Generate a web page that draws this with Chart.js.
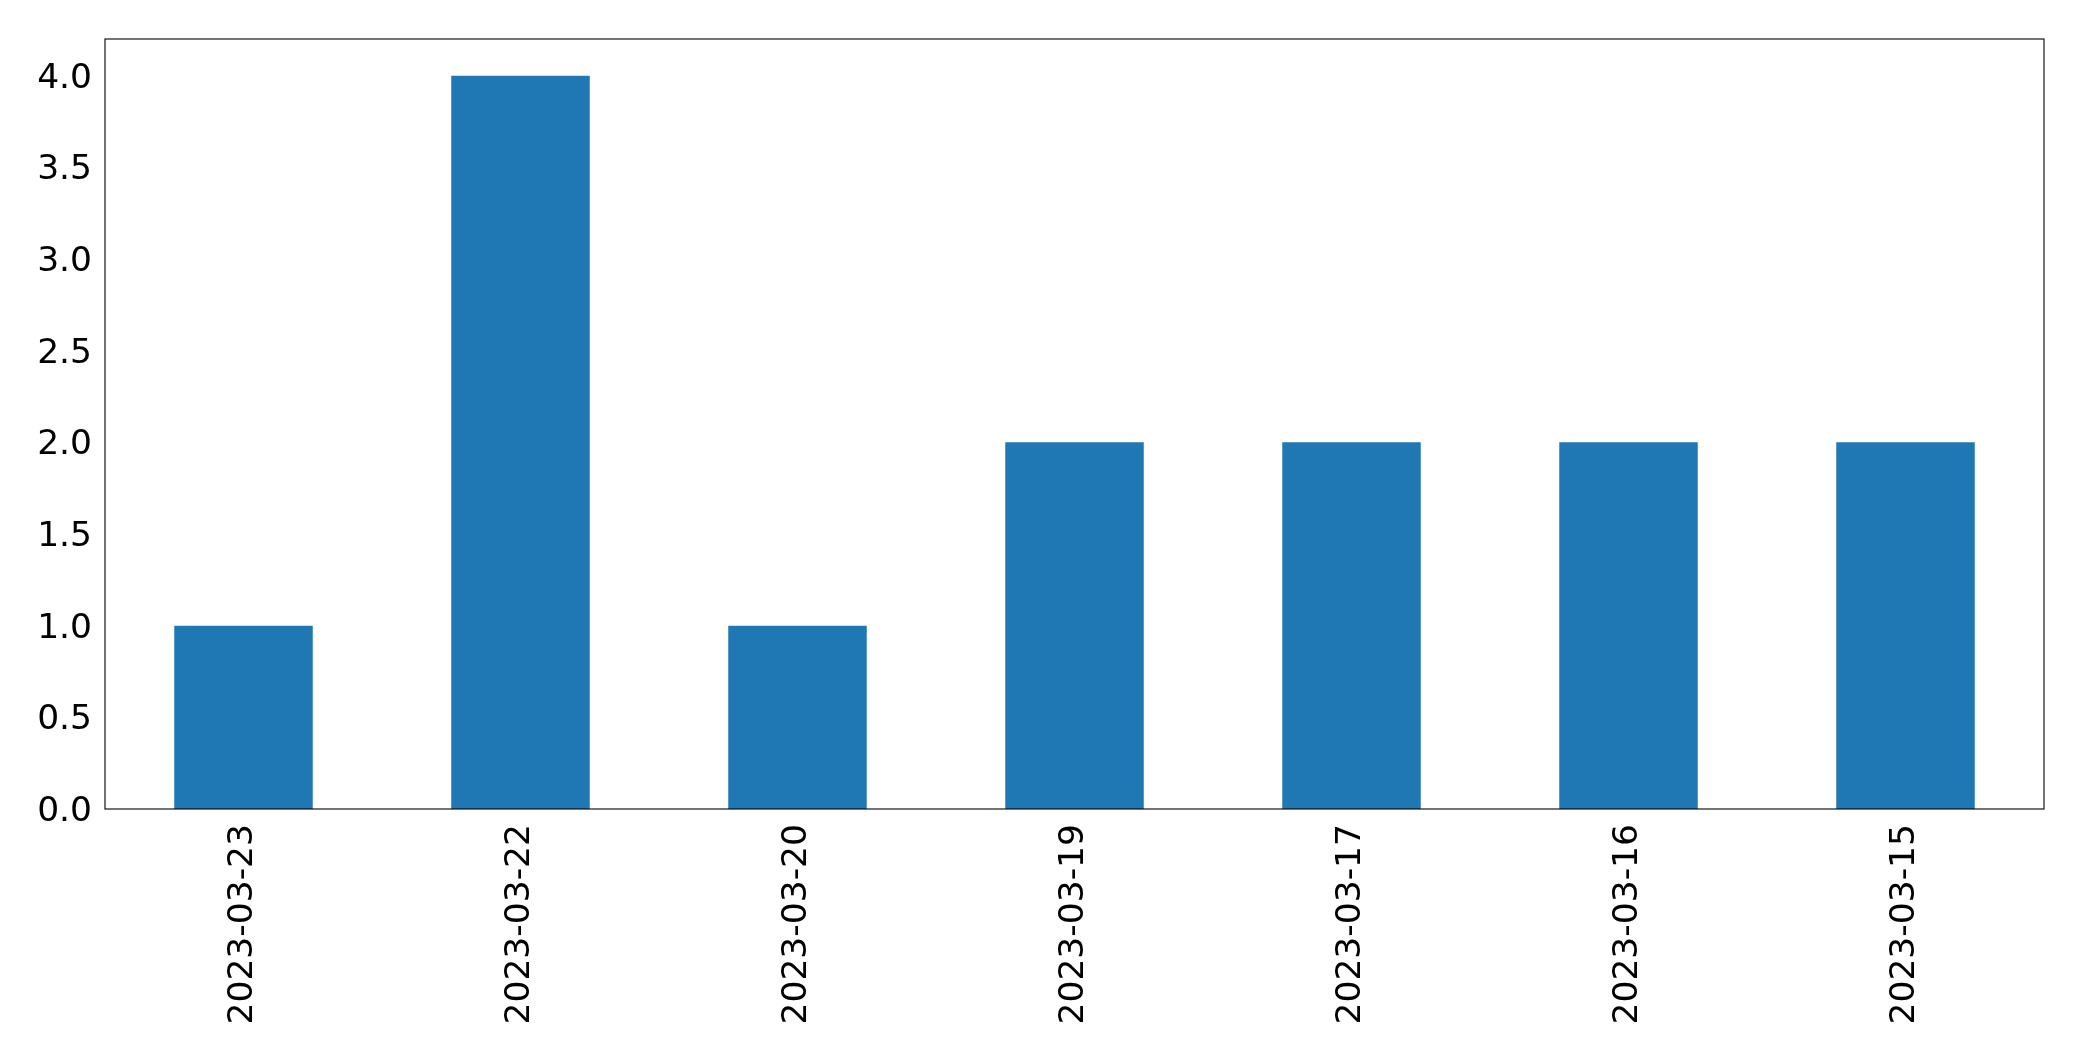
<!DOCTYPE html>
<html>
<head>
<meta charset="utf-8">
<script src="https://cdn.jsdelivr.net/npm/chart.js@4"></script>
<style>
  html, body { margin: 0; padding: 0; background: #fff; }
  #wrap { width: 2082px; height: 1061px; }
</style>
</head>
<body>
<div id="wrap"><canvas id="chart" width="2082" height="1061"></canvas></div>
<script>
// dados do gráfico
const dates = ['2023-03-23', '2023-03-22', '2023-03-20', '2023-03-19', '2023-03-17', '2023-03-16', '2023-03-15'];
const counts = [1, 4, 1, 2, 2, 2, 2];
const yTicks = [0, 0.5, 1, 1.5, 2, 2.5, 3, 3.5, 4];

// moldura completa em volta da área do gráfico (como no matplotlib)
const frame = {
    id: 'frame',
    afterDraw(chart) {
        const { ctx, chartArea: a } = chart;
        ctx.save();
        ctx.strokeStyle = '#000';
        ctx.lineWidth = 1.1;
        ctx.strokeRect(a.left, a.top, a.right - a.left, a.bottom - a.top);
        ctx.restore();
    }
};

const font = { family: '"DejaVu Sans", sans-serif', size: 34.5 };

new Chart(document.getElementById('chart').getContext('2d'), {
    type: 'bar',
    data: {
        labels: dates,
        datasets: [{
            data: counts,
            backgroundColor: '#1f77b4',
            barPercentage: 0.5,
            categoryPercentage: 1
        }]
    },
    options: {
        responsive: false,
        animation: false,
        layout: { padding: { top: 39, right: 38, left: 0, bottom: 0 } },
        plugins: { legend: { display: false }, tooltip: { enabled: false } },
        scales: {
            x: {
                grid: { display: false, drawTicks: true, tickLength: 5, tickColor: '#000', tickWidth: 1.1 },
                border: { display: false },
                ticks: { color: '#000', font, minRotation: 90, maxRotation: 90, padding: 10, autoSkip: false },
                afterFit(axis) { axis.height = 252; }
            },
            y: {
                min: 0,
                max: 4.2,
                grid: { display: false, drawTicks: true, tickLength: 5, tickColor: '#000', tickWidth: 1.1 },
                border: { display: false },
                ticks: { color: '#000', font, padding: 8, labelOffset: 3, callback: v => Number(v).toFixed(1) },
                afterBuildTicks(axis) { axis.ticks = yTicks.map(v => ({ value: v })); },
                afterFit(axis) { axis.width = 105; }
            }
        }
    },
    plugins: [frame]
});
</script>
</body>
</html>
